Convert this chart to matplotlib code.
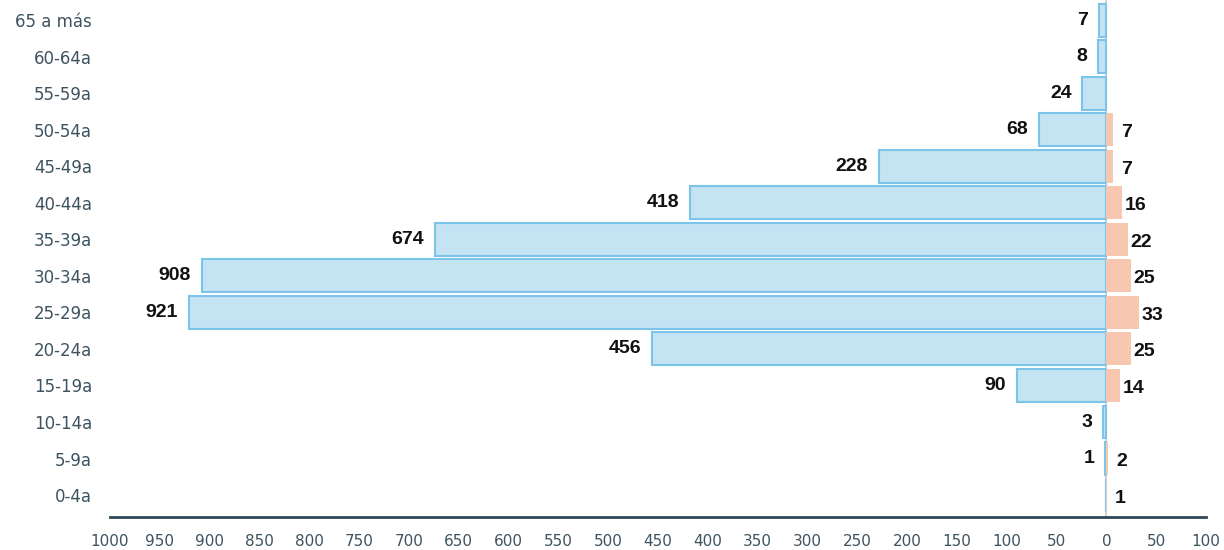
import matplotlib
matplotlib.use("Agg")
import matplotlib.pyplot as plt
import numpy as np

# piramide por grupos de edad
grupos = ['0-4a', '5-9a', '10-14a', '15-19a', '20-24a', '25-29a', '30-34a',
          '35-39a', '40-44a', '45-49a', '50-54a', '55-59a', '60-64a', '65 a más']
izq = [0, 1, 3, 90, 456, 921, 908, 674, 418, 228, 68, 24, 8, 7]
der = [1, 2, 0, 14, 25, 33, 25, 22, 16, 7, 7, 0, 0, 0]
ticks = [-1000, -950, -900, -850, -800, -750, -700, -650, -600, -550, -500, -450,
         -400, -350, -300, -250, -200, -150, -100, -50, 0, 50, 100]

plt.rcParams['font.family'] = ['DejaVu Sans']
fig = plt.figure(figsize=(12.24, 5.5), dpi=100)
ax = fig.add_axes([0.0899, 0.06, 0.8954, 0.94])

y = np.arange(len(grupos))
izq_neg = [-v for v in izq]
ax.barh(y, izq_neg, height=0.9, color='#C4E3F3', edgecolor='#7CC4E8', linewidth=1.5, zorder=2)
ax.barh(y, der, height=0.9, color='#F7C7AF', linewidth=0, zorder=2)
ax.axvline(0, color='#D3D3D3', lw=1.5, zorder=1)

for i in range(len(grupos)):
    if izq[i] > 0:
        ax.text(-izq[i] - 11, y[i], str(izq[i]), ha='right', va='center',
                fontsize=14, fontweight='bold', family='Liberation Sans', color='#111111')
    if der[i] > 0:
        ax.text(der[i] + 13, y[i] - 0.08, str(der[i]), ha='center', va='center',
                fontsize=14, fontweight='bold', family='Liberation Sans', color='#111111')

ax.set_xlim(-1000, 100)
ax.set_ylim(-0.6, 13.55)
ax.set_yticks(y)
ax.set_yticklabels(grupos, fontsize=12, color='#3D5360')
ax.set_xticks(ticks)
ax.set_xticklabels([str(abs(t)) for t in ticks], fontsize=11, color='#3D5360')
ax.tick_params(axis='both', length=0)
ax.tick_params(axis='y', pad=13)
ax.tick_params(axis='x', pad=12)
for s in ['top', 'right', 'left']:
    ax.spines[s].set_visible(False)
ax.spines['bottom'].set_color('#2E4756')
ax.spines['bottom'].set_linewidth(2)

fig.savefig('out.png', dpi=100)
